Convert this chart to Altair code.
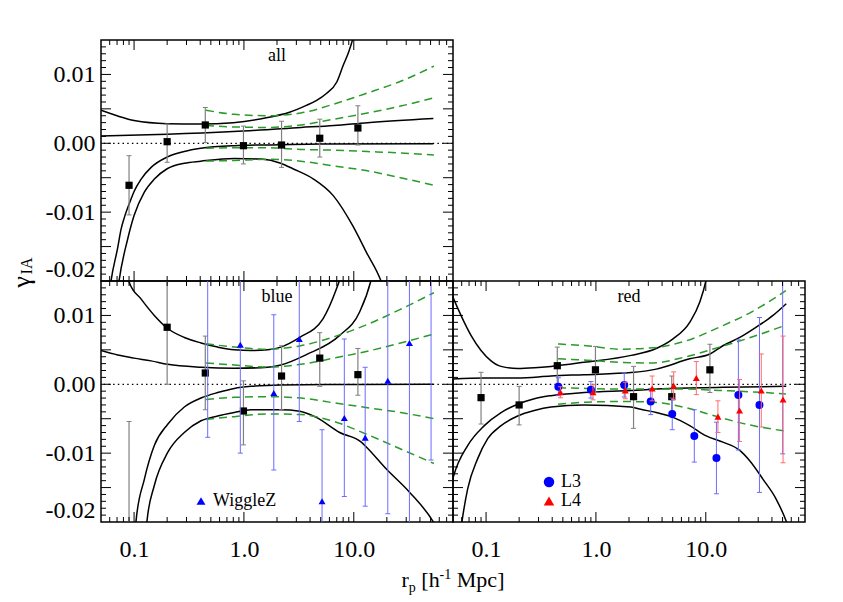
import altair as alt
import pandas as pd

FONT = "Liberation Serif"
W, H = 352, 241
X_DOMAIN = [0.05, 80]
Y_DOMAIN = [-0.02, 0.015]

# tick values
X_LABELS = [0.1, 1.0, 10.0]
X_MAJOR = [0.1, 1.0, 10.0]
X_MINOR = [0.06, 0.07, 0.08, 0.09, 0.2, 0.3, 0.4, 0.5, 0.6, 0.7, 0.8, 0.9,
           2, 3, 4, 5, 6, 7, 8, 9, 20, 30, 40, 50, 60, 70]
Y_LABELS = [-0.02, -0.01, 0.0, 0.01]
Y_MAJOR = [-0.015, -0.01, -0.005, 0.0, 0.005, 0.01]
Y_MINOR = [k / 1000 for k in range(-19, 15) if k % 5 != 0]

# ---------------- panel "all" ----------------
SQ_R = [0.09, 0.2, 0.445, 0.99, 2.2, 4.9, 10.9]
ALL_SQ_V = [-0.0061, 0.00023, 0.00266, -0.00035, -0.00025, 0.00073, 0.00222]
ALL_SQ_LO = [-0.0104, -0.00276, 0.0001, -0.0030, -0.0035, -0.0020, -0.00025]
ALL_SQ_HI = [-0.0018, 0.0028, 0.0052, 0.0025, 0.0032, 0.0035, 0.00546]

ALL_OUT_UP_R = [0.05, 0.07, 0.1, 0.2, 0.4, 0.8, 1.6, 2.6, 3.7, 4.55, 5.6, 7.0, 8.0, 9.0, 9.8, 10.5]
ALL_OUT_UP_V = [0.0048, 0.0040, 0.0033, 0.00285, 0.0028, 0.0030, 0.0037, 0.0045, 0.0055, 0.0062,
                0.0072, 0.0089, 0.0113, 0.0133, 0.0152, 0.0175]
ALL_IN_UP_R = [0.05, 0.2, 0.8, 3.3, 6.6, 13.3, 53]
ALL_IN_UP_V = [0.00105, 0.0013, 0.0017, 0.0023, 0.0026, 0.0030, 0.0036]
ALL_IN_LO_R = [0.057, 0.0617, 0.0709, 0.0761, 0.0815, 0.0939, 0.1, 0.116, 0.143, 0.2, 0.286,
               0.405, 0.815, 2.16, 5.0, 53]
ALL_IN_LO_V = [-0.0245, -0.0200, -0.0152, -0.0125, -0.0108, -0.0081, -0.0070, -0.0052, -0.0035,
               -0.0020, -0.0012, -0.00073, -0.00035, -0.0002, -0.0001, -0.00005]
ALL_OUT_LO_R = [0.068, 0.073, 0.0875, 0.1, 0.124, 0.153, 0.2, 0.286, 0.405, 0.815, 1.43, 2.16,
                2.79, 4.3, 6.5, 9.8, 13.0, 17.7, 20.0]
ALL_OUT_LO_V = [-0.0240, -0.0200, -0.0139, -0.0105, -0.0071, -0.0052, -0.0037, -0.0029, -0.0026,
                -0.0022, -0.0023, -0.0029, -0.0037, -0.0052, -0.0076, -0.0120, -0.0158, -0.0200, -0.0225]

GREEN_R = [0.452, 0.817, 1.64, 3.3, 6.6, 13.3, 26.7, 53.6]
ALL_G1 = [0.0048, 0.0042, 0.0040, 0.0044, 0.0057, 0.0073, 0.0090, 0.0112]
ALL_G2 = [0.0026, 0.00237, 0.0023, 0.00266, 0.0035, 0.0044, 0.0054, 0.0066]
ALL_G3 = [-0.00073, -0.00064, -0.00064, -0.0009, -0.0010, -0.0012, -0.0014, -0.0017]
ALL_G4 = [-0.00257, -0.0025, -0.00232, -0.0026, -0.0033, -0.0040, -0.0050, -0.0061]

# ---------------- panel "blue" ----------------
BLUE_SQ_V = [-0.030, 0.00828, 0.00164, -0.00388, 0.0012, 0.0038, 0.0014]
BLUE_SQ_LO = [-0.055, 0.0000, -0.0037, -0.0088, -0.0037, -0.0003, -0.0016]
BLUE_SQ_HI = [-0.0054, 0.0166, 0.0070, 0.0005, 0.0056, 0.0075, 0.0052]

BLUE_SERIES = ["WiggleZ"]
WIGGLEZ_R = [0.468, 0.927, 1.87, 3.19, 5.14, 8.2, 12.7, 20.4, 32.1, 50.5]
WIGGLEZ_V = [0.0170, 0.00575, -0.00126, 0.00658, -0.0170, -0.00489, -0.00775, 0.00052, 0.0060, 0.0165]
WIGGLEZ_LO = [-0.0077, -0.0100, -0.01245, -0.0054, -0.0274, -0.0163, -0.0177, -0.0188, -0.0210, -0.0110]
WIGGLEZ_HI = [0.0417, 0.0215, 0.0101, 0.0186, -0.0066, 0.00658, 0.00247, 0.0199, 0.0330, 0.0440]

BLUE_OUT_UP_R = [0.085, 0.0905, 0.1156, 0.1528, 0.2024, 0.2866, 0.4067, 0.577, 0.817, 1.16, 1.646,
                 2.17, 3.22, 5.24, 6.93, 7.44, 8.0]
BLUE_OUT_UP_V = [0.0175, 0.0148, 0.0124, 0.0100, 0.0081, 0.0068, 0.0060, 0.0054, 0.0050, 0.0049,
                 0.0050, 0.0054, 0.0068, 0.0095, 0.0138, 0.0152, 0.0175]
BLUE_IN_UP_R = [0.05, 0.071, 0.1, 0.1426, 0.2024, 0.4067, 0.817, 1.646, 2.17, 3.70, 7.44, 11.3, 14.4, 15.5]
BLUE_IN_UP_V = [0.0049, 0.00426, 0.0038, 0.0034, 0.0029, 0.00247, 0.00232, 0.00247, 0.0028, 0.0043,
                0.0071, 0.0105, 0.0152, 0.0175]
BLUE_IN_LO_R = [0.098, 0.1041, 0.124, 0.1528, 0.2024, 0.2866, 0.4067, 0.577, 0.817, 1.16, 2.17, 10.0, 53]
BLUE_IN_LO_V = [-0.0250, -0.0199, -0.0138, -0.0089, -0.0058, -0.0033, -0.0020, -0.0012, -0.0006,
                -0.0003, -0.0001, -0.00003, 0.0]
BLUE_OUT_LO_R = [0.125, 0.131, 0.1528, 0.2024, 0.2866, 0.4067, 0.577, 0.817, 1.16, 2.17, 3.22, 4.56,
                 7.44, 11.7, 13.0, 19.8, 32.3, 52.6, 60]
BLUE_OUT_LO_V = [-0.0250, -0.0199, -0.0147, -0.0099, -0.0070, -0.0053, -0.0046, -0.0041, -0.0037,
                 -0.0037, -0.0039, -0.0048, -0.0070, -0.0084, -0.0091, -0.0123, -0.0157, -0.0199, -0.0215]
BLUE_G1 = [0.0059, 0.0054, 0.0051, 0.0056, 0.0069, 0.0087, 0.0109, 0.0133]
BLUE_G2 = [0.0031, 0.0028, 0.0025, 0.0029, 0.0038, 0.0048, 0.0060, 0.0073]
BLUE_G3 = [-0.0022, -0.0019, -0.0018, -0.0020, -0.0027, -0.0034, -0.0041, -0.0050]
BLUE_G4 = [-0.0051, -0.0047, -0.0043, -0.0044, -0.0054, -0.0073, -0.0094, -0.0115]

# ---------------- panel "red" ----------------
RED_SQ_V = [-0.00194, -0.0030, 0.0027, 0.0021, -0.0018, -0.0018, 0.0021]
RED_SQ_LO = [-0.00577, -0.0059, 0.0000, -0.0012, -0.0064, -0.0046, -0.0012]
RED_SQ_HI = [0.00174, -0.0003, 0.0054, 0.0055, 0.0026, 0.0012, 0.0058]

RED_SERIES = ["L3", "L4"]
L3_R = [0.455, 0.9, 1.81, 3.15, 4.95, 7.86, 12.5, 19.8, 30.8, 50.1]
L3_V = [-0.00035, -0.0008, -0.0001, -0.0025, -0.0043, -0.0075, -0.0107, -0.00155, -0.0030, 0.0160]
L3_E = [0.0013, 0.0012, 0.00175, 0.0019, 0.0023, 0.0038, 0.0052, 0.0080, 0.0127, 0.0261]
L4_R = [0.475, 0.94, 1.85, 3.25, 5.1, 8.2, 12.9, 20.3, 32.0, 50.5]
L4_V = [-0.00116, -0.00116, -0.0009, -0.0006, -0.0002, 0.0009, -0.0047, -0.0038, -0.0009, -0.0022]
L4_E = [0.0008, 0.0011, 0.0012, 0.0018, 0.0020, 0.0024, 0.0023, 0.0045, 0.0053, 0.0092]

RED_OUT_UP_R = [0.045, 0.0507, 0.0591, 0.0729, 0.09, 0.111, 0.137, 0.194, 0.275, 0.39, 0.78, 2.09,
                3.54, 5.03, 7.14, 8.8, 10.1, 10.8]
RED_OUT_UP_V = [0.0145, 0.0124, 0.0100, 0.0071, 0.0049, 0.0034, 0.0026, 0.0023, 0.0024, 0.0026,
                0.0032, 0.0042, 0.0052, 0.0066, 0.0090, 0.0119, 0.0153, 0.018]
RED_IN_UP_R = [0.05, 0.0964, 0.194, 0.39, 0.78, 2.09, 3.54, 7.14, 10.9, 14.3, 20.4, 28.8, 40.9, 54.0]
RED_IN_UP_V = [0.00077, 0.0009, 0.0009, 0.0012, 0.0014, 0.0017, 0.0022, 0.0037, 0.0044, 0.0056,
               0.0068, 0.0083, 0.0100, 0.0117]
RED_IN_LO_R = [0.046, 0.0507, 0.068, 0.0964, 0.137, 0.194, 0.275, 0.39, 0.78, 2.09, 3.54, 7.14, 14.3, 54.0]
RED_IN_LO_V = [-0.0160, -0.0133, -0.0089, -0.0060, -0.0041, -0.0029, -0.0021, -0.00165, -0.0012,
               -0.0009, -0.0007, -0.00054, -0.00044, -0.0003]
RED_OUT_LO_R = [0.057, 0.0604, 0.068, 0.0839, 0.1035, 0.137, 0.194, 0.275, 0.39, 0.78, 2.09, 2.50,
                3.54, 5.03, 7.14, 10.1, 14.3, 20.4, 25.1, 33.2, 43.8, 54.0, 60]
RED_OUT_LO_V = [-0.0230, -0.0199, -0.0152, -0.0108, -0.0079, -0.0060, -0.0046, -0.0038, -0.0033,
                -0.0030, -0.0033, -0.0036, -0.0041, -0.0048, -0.0060, -0.0075, -0.0084, -0.0096,
                -0.0111, -0.0138, -0.0167, -0.0199, -0.022]
RED_G1 = [0.00585, 0.0056, 0.0051, 0.0053, 0.0063, 0.0083, 0.0106, 0.0136]
RED_G2 = [0.0037, 0.0035, 0.0032, 0.0031, 0.0040, 0.0054, 0.0069, 0.0086]
RED_G3 = [-0.0005, -0.0006, -0.0007, -0.0007, -0.0007, -0.0009, -0.0011, -0.0014]
RED_G4 = [-0.0029, -0.0026, -0.0025, -0.0026, -0.0034, -0.0048, -0.0060, -0.0068]

# text
PANEL_TITLES = ["all", "blue", "red"]
Y_TITLE = ["\u03b3", "IA"]
X_TITLE = ["r", "p", "[h", "-1", "Mpc]"]

GREEN = "#2a9a2a"
XSCALE = alt.Scale(type="log", domain=X_DOMAIN, nice=False)
YSCALE = alt.Scale(domain=Y_DOMAIN, nice=False, zero=False)

X_AXIS = alt.Axis(values=X_LABELS, format=".1f", ticks=False, domain=False, grid=False,
                  labelFont=FONT, labelFontSize=24, labelColor="black", labelPadding=15,
                  labelOverlap=False, labelFlush=False, title=None)
Y_AXIS = alt.Axis(values=Y_LABELS, labelExpr="replace(format(datum.value, '.2f'), '\u2212', '-')",
                  ticks=False, domain=False, grid=False, labelFont=FONT, labelFontSize=24,
                  labelColor="black", labelPadding=6, labelOverlap=False, labelFlush=True, title=None)


class Panel:
    def __init__(self, xa, ya):
        self.xa, self.ya = xa, ya
        self.layers = []

    def X(self, f):
        return alt.X(f"{f}:Q", scale=XSCALE, axis=self.xa)

    def Y(self, f):
        return alt.Y(f"{f}:Q", scale=YSCALE, axis=self.ya)

    def line(self, r, v, color="black", dash=None, width=1.5):
        kw = dict(color=color, strokeWidth=width, clip=True, interpolate="monotone")
        if dash:
            kw["strokeDash"] = dash
        df = pd.DataFrame({"r": r, "v": v})
        self.layers.append(alt.Chart(df).mark_line(**kw).encode(x=self.X("r"), y=self.Y("v"), order="r:Q"))

    def zero(self):
        df = pd.DataFrame({"v": [0.0]})
        self.layers.append(alt.Chart(df).mark_rule(color="black", strokeWidth=1.3, strokeDash=[1.5, 3.2])
                           .encode(y=self.Y("v")))

    def errbars(self, r, lo, hi, color, width=1.0):
        df = pd.DataFrame({"r": r, "lo": lo, "hi": hi})
        self.layers.append(alt.Chart(df).mark_rule(color=color, strokeWidth=width, clip=True)
                           .encode(x=self.X("r"), y=self.Y("lo"), y2="hi:Q"))
        for f in ("lo", "hi"):
            self.layers.append(alt.Chart(df).mark_tick(color=color, orient="horizontal", size=5,
                                                       thickness=1, opacity=1, clip=True)
                               .encode(x=self.X("r"), y=self.Y(f)))

    def squares(self, r, v):
        df = pd.DataFrame({"r": r, "v": v})
        self.layers.append(alt.Chart(df).mark_square(color="black", size=52, opacity=1, clip=True)
                           .encode(x=self.X("r"), y=self.Y("v")))

    def points(self, r, v, name, domain, colors, shapes, legend, size):
        df = pd.DataFrame({"r": r, "v": v, "s": [name] * len(r)})
        self.layers.append(alt.Chart(df).mark_point(filled=True, size=size, opacity=1, strokeWidth=0, clip=True)
                           .encode(x=self.X("r"), y=self.Y("v"),
                                   color=alt.Color("s:N", scale=alt.Scale(domain=domain, range=colors), legend=legend),
                                   shape=alt.Shape("s:N", scale=alt.Scale(domain=domain, range=shapes), legend=legend)))

    def text(self, txt, x, y, size, angle=0, align="left", baseline="alphabetic"):
        df = pd.DataFrame({"t": [txt]})
        self.layers.append(alt.Chart(df).mark_text(font=FONT, fontSize=size, color="black", align=align,
                                                   baseline=baseline, angle=angle)
                           .encode(x=alt.value(x), y=alt.value(y), text="t:N"))

    def ticks(self):
        for vals, ln in ((X_MAJOR, 10), (X_MINOR, 5)):
            df = pd.DataFrame({"t": vals})
            base = alt.Chart(df).mark_rule(color="black", strokeWidth=1)
            self.layers.append(base.encode(x=self.X("t"), y=alt.value(H), y2=alt.value(H - ln)))
            self.layers.append(base.encode(x=self.X("t"), y=alt.value(0), y2=alt.value(ln)))
        for vals, ln in ((Y_MAJOR, 10), (Y_MINOR, 5)):
            df = pd.DataFrame({"t": vals})
            base = alt.Chart(df).mark_rule(color="black", strokeWidth=1)
            self.layers.append(base.encode(y=self.Y("t"), x=alt.value(0), x2=alt.value(ln)))
            self.layers.append(base.encode(y=self.Y("t"), x=alt.value(W), x2=alt.value(W - ln)))

    def chart(self):
        return alt.layer(*self.layers).properties(width=W, height=H)


def curves(p, curve_list, greens):
    p.zero()
    for r, v in curve_list:
        p.line(r, v)
    for g in greens:
        p.line(GREEN_R, g, color=GREEN, dash=[8, 5])


# ---- top panel: all ----
pa = Panel(None, Y_AXIS)
curves(pa, [(ALL_OUT_UP_R, ALL_OUT_UP_V), (ALL_IN_UP_R, ALL_IN_UP_V),
            (ALL_IN_LO_R, ALL_IN_LO_V), (ALL_OUT_LO_R, ALL_OUT_LO_V)],
       [ALL_G1, ALL_G2, ALL_G3, ALL_G4])
pa.errbars(SQ_R, ALL_SQ_LO, ALL_SQ_HI, "#808080", 1.2)
pa.squares(SQ_R, ALL_SQ_V)
pa.ticks()
pa.text(PANEL_TITLES[0], W / 2, 16, 18, align="center", baseline="middle")
pa.text(Y_TITLE[0], -79, 242, 26, angle=270, align="center", baseline="middle")
pa.text(Y_TITLE[1], -74, 226, 16, angle=270, align="center", baseline="middle")
top = pa.chart()

# ---- bottom-left: blue ----
LEG_BLUE = alt.Legend(title=None, orient="none", legendX=91, legendY=211, labelFont=FONT, labelFontSize=18,
                      labelColor="black", symbolSize=80, symbolStrokeWidth=0, symbolOpacity=1,
                      padding=0, labelOffset=3)
pb = Panel(X_AXIS, Y_AXIS)
curves(pb, [(BLUE_OUT_UP_R, BLUE_OUT_UP_V), (BLUE_IN_UP_R, BLUE_IN_UP_V),
            (BLUE_IN_LO_R, BLUE_IN_LO_V), (BLUE_OUT_LO_R, BLUE_OUT_LO_V)],
       [BLUE_G1, BLUE_G2, BLUE_G3, BLUE_G4])
pb.errbars(SQ_R, BLUE_SQ_LO, BLUE_SQ_HI, "#808080", 1.2)
pb.squares(SQ_R, BLUE_SQ_V)
pb.errbars(WIGGLEZ_R, WIGGLEZ_LO, WIGGLEZ_HI, "#6b6bff", 1.0)
pb.points(WIGGLEZ_R, WIGGLEZ_V, BLUE_SERIES[0], BLUE_SERIES, ["#0000ff"], ["triangle-up"], LEG_BLUE, 49)
pb.ticks()
pb.text(PANEL_TITLES[1], W / 2, 16, 18, align="center", baseline="middle")
# x-axis title centred on the shared edge
x0 = W - 51.5
pb.text(X_TITLE[0], x0, 306, 22)
pb.text(X_TITLE[1], x0 + 7.3, 311, 14)
pb.text(X_TITLE[2], x0 + 19.8, 306, 22)
pb.text(X_TITLE[3], x0 + 38.1, 298, 14)
pb.text(X_TITLE[4], x0 + 55.3, 306, 22)
bl = pb.chart()

# ---- bottom-right: red ----
LEG_RED = alt.Legend(title=None, orient="none", legendX=87, legendY=192, labelFont=FONT, labelFontSize=18,
                     labelColor="black", symbolSize=110, symbolStrokeWidth=0, symbolOpacity=1,
                     padding=0, labelOffset=3, rowPadding=1)
pr = Panel(X_AXIS, None)
curves(pr, [(RED_OUT_UP_R, RED_OUT_UP_V), (RED_IN_UP_R, RED_IN_UP_V),
            (RED_IN_LO_R, RED_IN_LO_V), (RED_OUT_LO_R, RED_OUT_LO_V)],
       [RED_G1, RED_G2, RED_G3, RED_G4])
pr.errbars(SQ_R, RED_SQ_LO, RED_SQ_HI, "#808080", 1.2)
pr.squares(SQ_R, RED_SQ_V)
pr.errbars(L3_R, [v - e for v, e in zip(L3_V, L3_E)], [v + e for v, e in zip(L3_V, L3_E)], "#6b6bff", 1.0)
pr.points(L3_R, L3_V, RED_SERIES[0], RED_SERIES, ["#0000ff", "#ff0000"], ["circle", "triangle-up"], LEG_RED, 64)
pr.errbars(L4_R, [v - e for v, e in zip(L4_V, L4_E)], [v + e for v, e in zip(L4_V, L4_E)], "#ff6b6b", 1.0)
pr.points(L4_R, L4_V, RED_SERIES[1], RED_SERIES, ["#0000ff", "#ff0000"], ["circle", "triangle-up"], LEG_RED, 49)
pr.ticks()
pr.text(PANEL_TITLES[2], W / 2, 16, 18, align="center", baseline="middle")
br = pr.chart()

bottom = alt.hconcat(bl, br, spacing=0, bounds="flush").resolve_scale(color="independent", shape="independent")
chart = (alt.vconcat(top, bottom, spacing=0, bounds="flush")
         .resolve_scale(color="independent", shape="independent")
         .properties(padding={"left": 0, "top": 30, "right": 10, "bottom": 5})
         .configure(background="white", font=FONT)
         .configure_axis(labelFont=FONT, titleFont=FONT)
         .configure_legend(labelFont=FONT, titleFont=FONT)
         .configure_text(font=FONT)
         .configure_view(stroke="black", strokeWidth=1.5))

chart.save("out.html", embed_options={"renderer": "svg", "actions": False})
